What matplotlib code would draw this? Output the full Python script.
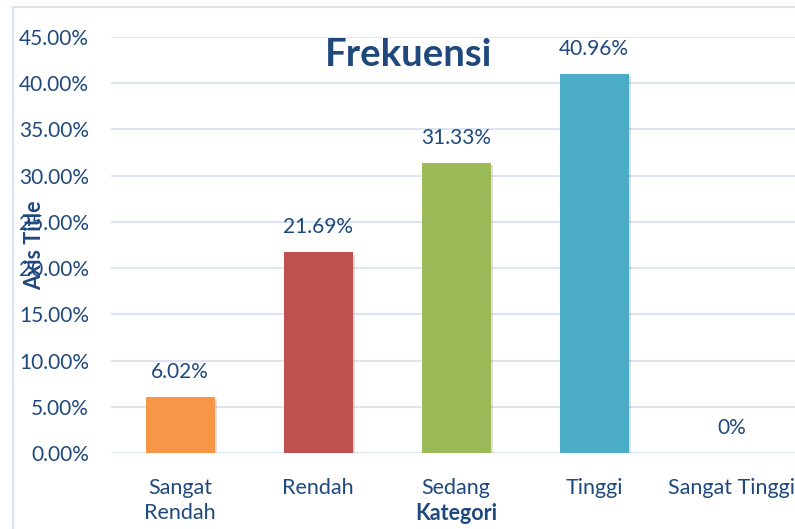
import matplotlib.pyplot as plt
import matplotlib.patheffects as pe
from matplotlib.lines import Line2D
from matplotlib.ticker import PercentFormatter

kategori = ["Sangat\nRendah", "Rendah", "Sedang", "Tinggi", "Sangat Tinggi"]
frekuensi = [0.0602, 0.2169, 0.3133, 0.4096, 0.0]
warna = ["#F79646", "#C0504D", "#9BBB59", "#4BACC6", "#8064A2"]
yticks = [0.0, 0.05, 0.10, 0.15, 0.20, 0.25, 0.30, 0.35, 0.40, 0.45]

text_color = "#1F497D"
grid_color = "#D9E3F1"

plt.rcParams['font.family'] = ['Lato', 'DejaVu Sans']

fig = plt.figure(figsize=(7.95, 5.29), dpi=100)
ax = fig.add_axes([111 / 795, 76 / 529, 690 / 795, 416 / 529])

x = range(len(kategori))
bars = ax.bar(x, frekuensi, width=0.5, color=warna, zorder=3)
for b in bars:
    b.set_path_effects([pe.SimplePatchShadow(offset=(1.5, -1.5), alpha=0.15), pe.Normal()])

for xi, v in zip(x, frekuensi):
    label = f"{v * 100:.2f}%" if v else "0%"
    ax.annotate(label, (xi, v), xytext=(0, 18), textcoords="offset points",
                ha="center", va="center", fontsize=15, color=text_color)

ax.set_xlim(-0.5, len(kategori) - 0.5)
ax.set_ylim(0, 0.45)
ax.set_yticks(yticks)
ax.yaxis.set_major_formatter(PercentFormatter(1.0, decimals=2))
ax.set_xticks(list(x))
ax.set_xticklabels(kategori, linespacing=1.3)

ax.grid(axis="y", color=grid_color, linewidth=1.3, zorder=0)
ax.tick_params(axis="y", length=0, pad=16, labelsize=15, labelcolor=text_color)
ax.tick_params(axis="x", length=0, pad=18, labelsize=15.5, labelcolor=text_color)
for s in ax.spines.values():
    s.set_visible(False)

fig.text(409 / 795, 1 - 55 / 529, "Frekuensi", ha="center", va="center",
         fontsize=27.5, fontweight="bold", color=text_color)
fig.text(456 / 795, 1 - 514 / 529, "Kategori", ha="center", va="center",
         fontsize=15.5, fontweight="bold", color=text_color)
fig.text(35 / 795, 1 - 245 / 529, "Axis Title", ha="center", va="center",
         rotation=90, fontsize=15.5, fontweight="bold", color=text_color)

# outer chart border (left and top edges visible)
fig.add_artist(Line2D([13 / 795, 13 / 795], [0, 1 - 7 / 529], color=grid_color, linewidth=1.5))
fig.add_artist(Line2D([13 / 795, 1], [1 - 7 / 529, 1 - 7 / 529], color=grid_color, linewidth=1.5))

fig.savefig("out.png", dpi=100)
